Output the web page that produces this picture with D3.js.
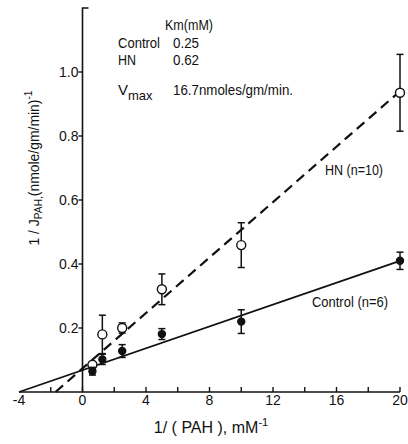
<!DOCTYPE html>
<html>
<head>
<meta charset="utf-8">
<script src="https://cdn.jsdelivr.net/npm/d3@7/dist/d3.min.js"></script>
<style>
  body { margin: 0; background: #fff; }
  text { font-family: "Liberation Sans", Arial, sans-serif; fill: #111; }
</style>
</head>
<body>
<svg id="chart" width="408" height="444"></svg>
<script>
// 1/[PAH] (mM^-1)
const xVals = [0.625, 1.25, 2.5, 5, 10, 20]
// control, mean and error
const controlY = [0.065, 0.102, 0.128, 0.181, 0.22, 0.41]
const controlErr = [0.012, 0.016, 0.02, 0.017, 0.037, 0.027]
// HN, mean and error
const hnY = [0.085, 0.18, 0.2, 0.321, 0.459, 0.935]
const hnErr = [0.008, 0.06, 0.016, 0.048, 0.07, 0.12]
// fitted lines, end points
const controlFit = [[-4, 0], [20, 0.41]]
const hnFit = [[-1.7, 0], [20, 0.94]]

const xTicks = [-2, 0, 2, 4, 6, 8, 10, 12, 14, 16, 18, 20]
const xLabels = [-4, 0, 4, 8, 12, 16, 20]
const yTicks = [0.2, 0.4, 0.6, 0.8, 1.0]

const svg = d3.select("#chart")
const x = d3.scaleLinear().domain([-4, 20]).range([19, 400])
const y = d3.scaleLinear().domain([0, 1.2]).range([392, 8])

const ink = "#111"

// x axis
svg.append("line")
    .attr("x1", x(-4)).attr("x2", x(20)).attr("y1", y(0)).attr("y2", y(0))
    .attr("stroke", ink).attr("stroke-width", 1.6)
svg.selectAll(".xt").data(xTicks).enter().append("line")
    .attr("x1", d => x(d)).attr("x2", d => x(d)).attr("y1", y(0)).attr("y2", y(0) - 5)
    .attr("stroke", ink).attr("stroke-width", 1.4)
svg.selectAll(".xl").data(xLabels).enter().append("text")
    .attr("x", d => x(d)).attr("y", 405)
    .attr("text-anchor", "middle").attr("font-size", 14)
    .text(d => d)

// y axis (bracket at top)
svg.append("path")
    .attr("d", `M${x(0) + 6},${y(1.2)}H${x(0)}V${y(0)}`)
    .attr("fill", "none").attr("stroke", ink).attr("stroke-width", 1.6)
svg.selectAll(".yt").data(yTicks).enter().append("line")
    .attr("x1", x(0) - 4).attr("x2", x(0)).attr("y1", d => y(d)).attr("y2", d => y(d))
    .attr("stroke", ink).attr("stroke-width", 1.4)
svg.selectAll(".yl").data(yTicks).enter().append("text")
    .attr("x", x(0) - 4).attr("y", d => y(d) + 5)
    .attr("text-anchor", "end").attr("font-size", 14)
    .text(d => d.toFixed(1))

// fitted lines
const line = d3.line().x(d => x(d[0])).y(d => y(d[1]))
svg.append("path").attr("d", line(controlFit))
    .attr("fill", "none").attr("stroke", ink).attr("stroke-width", 1.8)
svg.append("path").attr("d", line(hnFit))
    .attr("fill", "none").attr("stroke", ink).attr("stroke-width", 2.2)
    .attr("stroke-dasharray", "10,6")

// error bars + markers
function drawSeries(ys, errs, filled) {
    const g = svg.append("g")
    ys.forEach((v, i) => {
        const cx = x(xVals[i])
        const top = y(v + errs[i]), bot = y(v - errs[i])
        g.append("line").attr("x1", cx).attr("x2", cx).attr("y1", top).attr("y2", bot)
            .attr("stroke", ink).attr("stroke-width", 1.5)
        ;[top, bot].forEach(yy => {
            g.append("line").attr("x1", cx - 3.5).attr("x2", cx + 3.5).attr("y1", yy).attr("y2", yy)
                .attr("stroke", ink).attr("stroke-width", 1.5)
        })
        g.append("circle").attr("cx", cx).attr("cy", y(v))
            .attr("r", filled ? 3.5 : 4.5)
            .attr("fill", filled ? ink : "#fff")
            .attr("stroke", ink).attr("stroke-width", 1.4)
    })
}
drawSeries(hnY, hnErr, false)
drawSeries(controlY, controlErr, true)

// annotation block (condensed look via textLength)
function label(tx, ty, str, w) {
    const t = svg.append("text").attr("x", tx).attr("y", ty).attr("font-size", 15).text(str)
    if (w) t.attr("textLength", w).attr("lengthAdjust", "spacingAndGlyphs")
    return t
}
label(165, 30, "Km(mM)", 48)
label(118, 48, "Control", 42)
label(173, 48, "0.25", 26)
label(118, 65, "HN", 18)
label(173, 65, "0.62", 26)
const vm = svg.append("text").attr("x", 118).attr("y", 95).attr("font-size", 15)
vm.append("tspan").text("V")
vm.append("tspan").attr("font-size", 13).attr("dy", 5).text("max")
label(173, 95, "16.7nmoles/gm/min.", 120)

label(325, 175, "HN (n=10)", 58)
label(312, 307, "Control (n=6)", 76)

// axis titles
const xt = svg.append("text").attr("x", 211).attr("y", 433)
    .attr("text-anchor", "middle").attr("font-size", 16)
xt.append("tspan").text("1/ ( PAH ), mM")
xt.append("tspan").attr("font-size", 11).attr("dy", -7).text("-1")

const yt = svg.append("text")
    .attr("transform", "translate(39,168) rotate(-90)")
    .attr("text-anchor", "middle").attr("font-size", 15)
    .attr("textLength", 155).attr("lengthAdjust", "spacingAndGlyphs")
yt.append("tspan").text("1 / J")
yt.append("tspan").attr("font-size", 11).attr("dy", 3).text("PAH,")
yt.append("tspan").attr("dy", -3).text("(nmole/gm/min)")
yt.append("tspan").attr("font-size", 11).attr("dy", -7).text("-1")
</script>
</body>
</html>
